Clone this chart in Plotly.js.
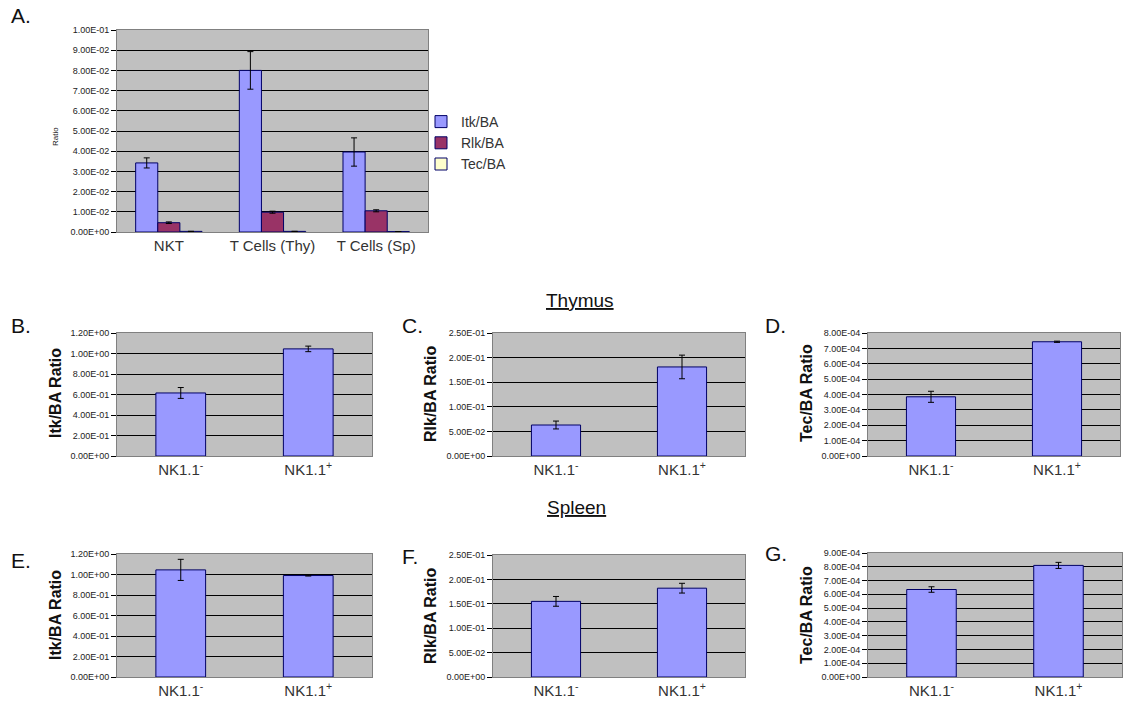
<!DOCTYPE html>
<html><head><meta charset="utf-8">
<script src="https://cdn.plot.ly/plotly-3.0.1.min.js"></script>
<style>html,body{margin:0;padding:0;background:#fff}#chart{width:1126px;height:709px}</style>
</head><body><div id="chart"></div>
<script>
// ---------- data ----------
const catsA = ['NKT', 'T Cells (Thy)', 'T Cells (Sp)'];
const itkA = [0.0342, 0.0800, 0.0396];
const itkAerr = [0.0025, 0.0093, 0.0070];
const rlkA = [0.0046, 0.0098, 0.0105];
const rlkAerr = [0.0004, 0.0005, 0.0005];
const tecA = [0.0003, 0.0003, 0.0002];
const tecAerr = [0, 0, 0];

const catsNK = ['NK1.1<sup>-</sup>', 'NK1.1<sup>+</sup>'];
const thyItk = [0.615, 1.045];   const thyItkErr = [0.053, 0.027];
const thyRlk = [0.063, 0.181];   const thyRlkErr = [0.008, 0.024];
const thyTec = [3.85e-4, 7.43e-4]; const thyTecErr = [0.36e-4, 0.04e-4];
const splItk = [1.045, 0.99];    const splItkErr = [0.103, 0.005];
const splRlk = [0.155, 0.182];   const splRlkErr = [0.010, 0.010];
const splTec = [6.35e-4, 8.1e-4]; const splTecErr = [0.2e-4, 0.22e-4];

const tickValsA = [0, 0.01, 0.02, 0.03, 0.04, 0.05, 0.06, 0.07, 0.08, 0.09, 0.10];
const tickTextA = ['0.00E+00','1.00E-02','2.00E-02','3.00E-02','4.00E-02','5.00E-02','6.00E-02','7.00E-02','8.00E-02','9.00E-02','1.00E-01'];
const tickValsItk = [0, 0.2, 0.4, 0.6, 0.8, 1.0, 1.2];
const tickTextItk = ['0.00E+00','2.00E-01','4.00E-01','6.00E-01','8.00E-01','1.00E+00','1.20E+00'];
const tickValsRlk = [0, 0.05, 0.10, 0.15, 0.20, 0.25];
const tickTextRlk = ['0.00E+00','5.00E-02','1.00E-01','1.50E-01','2.00E-01','2.50E-01'];
const tickValsTecD = [0, 1e-4, 2e-4, 3e-4, 4e-4, 5e-4, 6e-4, 7e-4, 8e-4];
const tickTextTecD = ['0.00E+00','1.00E-04','2.00E-04','3.00E-04','4.00E-04','5.00E-04','6.00E-04','7.00E-04','8.00E-04'];
const tickValsTecG = [0, 1e-4, 2e-4, 3e-4, 4e-4, 5e-4, 6e-4, 7e-4, 8e-4, 9e-4];
const tickTextTecG = ['0.00E+00','1.00E-04','2.00E-04','3.00E-04','4.00E-04','5.00E-04','6.00E-04','7.00E-04','8.00E-04','9.00E-04'];

// ---------- style ----------
const W = 1126, H = 709;
const BLUE = '#9999FF', PLUM = '#993366', CREAM = '#FFFFCC', EDGE = '#000066';
const tickFont = {family: 'Liberation Sans Narrow, Arial Narrow, Liberation Sans, Arial', size: 9, color: '#222'};
const catFont = {family: 'Liberation Sans, Arial', size: 15, color: '#333'};

function xd(a, b) { return [a / W, b / W]; }
function yd(top, bot) { return [1 - bot / H, 1 - top / H]; }

function err(arr) { return {type: 'data', array: arr, visible: true, color: '#000', thickness: 1, width: 3}; }

function barTrace(x, y, e, color, xa, ya, name, show, width) {
  const t = {type: 'bar', x: x, y: y, name: name, showlegend: show,
    marker: {color: color, line: {color: EDGE, width: 1}},
    error_y: err(e), xaxis: xa, yaxis: ya, hoverinfo: 'x+y'};
  if (width) t.width = width;
  return t;
}

const BW = 0.39;
const data = [
  barTrace(catsA, itkA, itkAerr, BLUE, 'x', 'y', 'Itk/BA', true),
  barTrace(catsA, rlkA, rlkAerr, PLUM, 'x', 'y', 'Rlk/BA', true),
  barTrace(catsA, tecA, tecAerr, CREAM, 'x', 'y', 'Tec/BA', true),
  barTrace(catsNK, thyItk, thyItkErr, BLUE, 'x2', 'y2', 'Itk/BA', false, BW),
  barTrace(catsNK, thyRlk, thyRlkErr, BLUE, 'x3', 'y3', 'Rlk/BA', false, BW),
  barTrace(catsNK, thyTec, thyTecErr, BLUE, 'x4', 'y4', 'Tec/BA', false, BW),
  barTrace(catsNK, splItk, splItkErr, BLUE, 'x5', 'y5', 'Itk/BA', false, BW),
  barTrace(catsNK, splRlk, splRlkErr, BLUE, 'x6', 'y6', 'Rlk/BA', false, BW),
  barTrace(catsNK, splTec, splTecErr, BLUE, 'x7', 'y7', 'Tec/BA', false, BW)
];

function xAxis(dom, anchor) {
  return {domain: dom, anchor: anchor, type: 'category', showgrid: false, zeroline: false,
    showline: true, linecolor: '#808080', linewidth: 1, mirror: true,
    ticks: '', tickfont: catFont, fixedrange: true};
}
function yAxis(dom, anchor, range, vals, text) {
  return {domain: dom, anchor: anchor, range: range, tickmode: 'array', tickvals: vals, ticktext: text,
    showgrid: true, gridcolor: '#000', gridwidth: 1, zeroline: false,
    showline: true, linecolor: '#808080', linewidth: 1, mirror: true,
    ticks: 'outside', ticklen: 5, tickcolor: '#000', tickfont: tickFont, fixedrange: true};
}

const annFont = {family: 'Liberation Sans, Arial', size: 21, color: '#111'};
const ytFont = {family: 'Liberation Sans, Arial', size: 16, color: '#111'};
function letter(t, x, y) { return {text: t, x: x / W, y: 1 - y / H, xref: 'paper', yref: 'paper', xanchor: 'left', yanchor: 'middle', showarrow: false, font: annFont}; }
function ytitle(t, x, y, f) { return {text: t, x: x / W, y: 1 - y / H, xref: 'paper', yref: 'paper', xanchor: 'center', yanchor: 'middle', textangle: -90, showarrow: false, font: f}; }

const layout = {
  width: W, height: H, margin: {l: 0, r: 0, t: 0, b: 0},
  paper_bgcolor: '#fff', plot_bgcolor: '#C0C0C0',
  barmode: 'group', bargap: 0.36, bargroupgap: 0,
  showlegend: true,
  legend: {x: 421 / W, y: 1 - 106 / H, xanchor: 'left', yanchor: 'top', bgcolor: 'rgba(0,0,0,0)',
    font: {family: 'Liberation Sans, Arial', size: 14, color: '#333'}, tracegroupgap: 0, itemwidth: 30},
  xaxis: xAxis(xd(117, 428), 'y'),
  yaxis: yAxis(yd(30, 232), 'x', [0, 0.1], tickValsA, tickTextA),
  xaxis2: xAxis(xd(117, 372), 'y2'),
  yaxis2: yAxis(yd(333, 456), 'x2', [0, 1.2], tickValsItk, tickTextItk),
  xaxis3: xAxis(xd(493, 745), 'y3'),
  yaxis3: yAxis(yd(333, 456), 'x3', [0, 0.25], tickValsRlk, tickTextRlk),
  xaxis4: xAxis(xd(868, 1120), 'y4'),
  yaxis4: yAxis(yd(333, 456), 'x4', [0, 8e-4], tickValsTecD, tickTextTecD),
  xaxis5: xAxis(xd(117, 372), 'y5'),
  yaxis5: yAxis(yd(554, 677), 'x5', [0, 1.2], tickValsItk, tickTextItk),
  xaxis6: xAxis(xd(493, 745), 'y6'),
  yaxis6: yAxis(yd(555, 677), 'x6', [0, 0.25], tickValsRlk, tickTextRlk),
  xaxis7: xAxis(xd(868, 1122), 'y7'),
  yaxis7: yAxis(yd(553, 677), 'x7', [0, 9e-4], tickValsTecG, tickTextTecG),
  annotations: [
    letter('A.', 9, 16), letter('B.', 9, 326), letter('C.', 400, 326), letter('D.', 763, 326),
    letter('E.', 9, 560), letter('F.', 400, 556), letter('G.', 763, 553),
    {text: '<u>Thymus</u>', x: 580 / W, y: 1 - 300 / H, xref: 'paper', yref: 'paper', showarrow: false,
      font: {family: 'Liberation Sans, Arial', size: 19, color: '#111'}},
    {text: '<u>Spleen</u>', x: 576 / W, y: 1 - 520 / H, xref: 'paper', yref: 'paper', showarrow: false,
      font: {family: 'Liberation Sans, Arial', size: 19, color: '#111'}},
    ytitle('Ratio', 55, 137, {family: 'Liberation Sans, Arial', size: 8, color: '#222'}),
    ytitle('<b>Itk/BA Ratio</b>', 55, 393, ytFont),
    ytitle('<b>Rlk/BA Ratio</b>', 430, 393, ytFont),
    ytitle('<b>Tec/BA Ratio</b>', 806, 393, ytFont),
    ytitle('<b>Itk/BA Ratio</b>', 55, 615, ytFont),
    ytitle('<b>Rlk/BA Ratio</b>', 430, 615, ytFont),
    ytitle('<b>Tec/BA Ratio</b>', 806, 615, ytFont)
  ]
};

Plotly.newPlot('chart', data, layout, {displayModeBar: false, staticPlot: true});
</script></body></html>
